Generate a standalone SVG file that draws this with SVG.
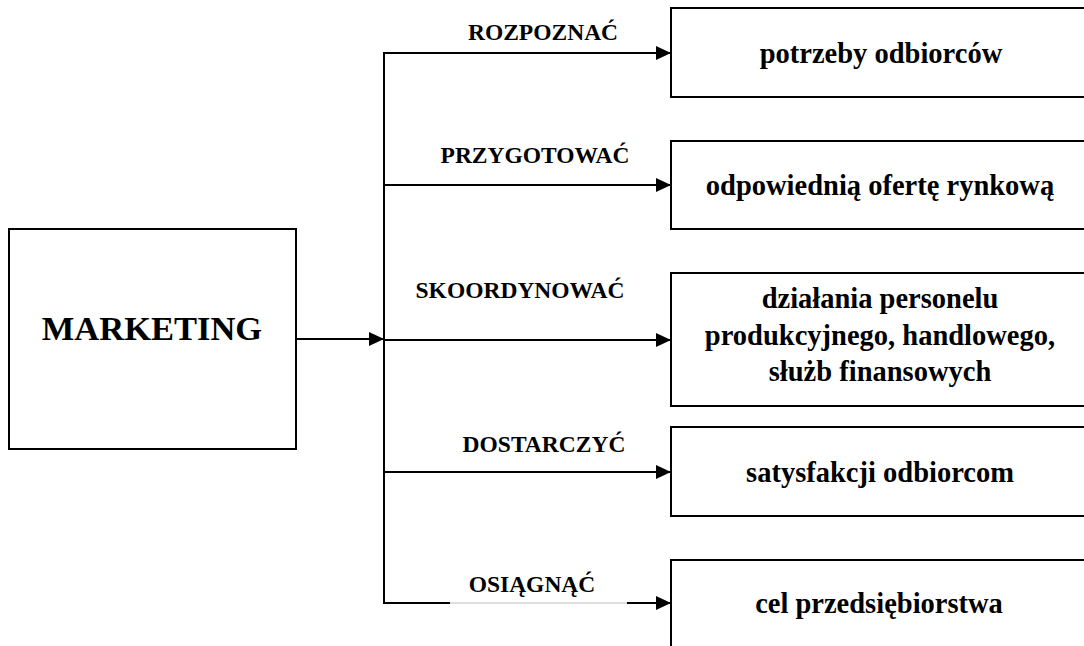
<svg xmlns="http://www.w3.org/2000/svg" width="1084" height="646" viewBox="0 0 1084 646">
  <style>
    .box { fill: #ffffff; stroke: #000000; stroke-width: 2; }
    .line { fill: none; stroke: #000000; stroke-width: 2; }
    .txt { font-family: "Liberation Serif", "Times New Roman", serif; font-weight: bold; fill: #000000; text-anchor: middle; }
    .verb { font-size: 23.5px; }
    .goal { font-size: 28.5px; }
    .main { font-size: 34.5px; }
  </style>
  <defs>
    <marker id="arrow" viewBox="0 0 15 14" refX="15" refY="7" markerWidth="15" markerHeight="14" markerUnits="userSpaceOnUse" orient="auto">
      <path d="M0,0 L15,7 L0,14 Z" fill="#000000"/>
    </marker>
  </defs>

  <g id="marketing">
    <rect class="box" x="9" y="229" width="287" height="220" stroke="#1a1a1a"/>
    <text class="txt main" x="152" y="340">MARKETING</text>
  </g>

  <g id="connectors">
    <!-- trunk -->
    <line class="line" x1="296" y1="339" x2="384" y2="339" marker-end="url(#arrow)"/>
    <line class="line" x1="384" y1="52" x2="384" y2="604"/>
    <!-- branches -->
    <line class="line" x1="383" y1="53" x2="450" y2="53"/>
    <line class="line" x1="450" y1="53" x2="671" y2="53" stroke-width="1.5" marker-end="url(#arrow)"/>
    <line class="line" x1="383" y1="185" x2="671" y2="185" marker-end="url(#arrow)"/>
    <line class="line" x1="384" y1="340" x2="671" y2="340" marker-end="url(#arrow)"/>
    <line class="line" x1="383" y1="472" x2="671" y2="472" marker-end="url(#arrow)"/>
    <line class="line" x1="383" y1="603" x2="450" y2="603"/>
    <line x1="450" y1="603" x2="627" y2="603" stroke="#bbbbbb" stroke-width="1"/>
    <line class="line" x1="627" y1="603" x2="671" y2="603" marker-end="url(#arrow)"/>
  </g>

  <g id="labels">
    <text class="txt verb" x="543" y="40">ROZPOZNAĆ</text>
    <text class="txt verb" x="535" y="163">PRZYGOTOWAĆ</text>
    <text class="txt verb" x="520" y="298">SKOORDYNOWAĆ</text>
    <text class="txt verb" x="544" y="452">DOSTARCZYĆ</text>
    <text class="txt verb" x="532" y="592">OSIĄGNĄĆ</text>
  </g>

  <g id="goal-needs">
    <rect class="box" x="671" y="8" width="430" height="89"/>
    <text class="txt goal" x="881" y="63">potrzeby odbiorców</text>
  </g>

  <g id="goal-offer">
    <rect class="box" x="671" y="141" width="430" height="88"/>
    <text class="txt goal" x="880" y="195">odpowiednią ofertę rynkową</text>
  </g>

  <g id="goal-coordination">
    <rect class="box" x="671" y="273" width="430" height="133"/>
    <text class="txt goal" x="880" y="308">działania personelu</text>
    <text class="txt goal" x="880" y="345">produkcyjnego, handlowego,</text>
    <text class="txt goal" x="880" y="381">służb finansowych</text>
  </g>

  <g id="goal-satisfaction">
    <rect class="box" x="671" y="427" width="430" height="89"/>
    <text class="txt goal" x="880" y="482">satysfakcji odbiorcom</text>
  </g>

  <g id="goal-company">
    <rect class="box" x="671" y="560" width="430" height="120"/>
    <text class="txt goal" x="879" y="613">cel przedsiębiorstwa</text>
  </g>
</svg>
